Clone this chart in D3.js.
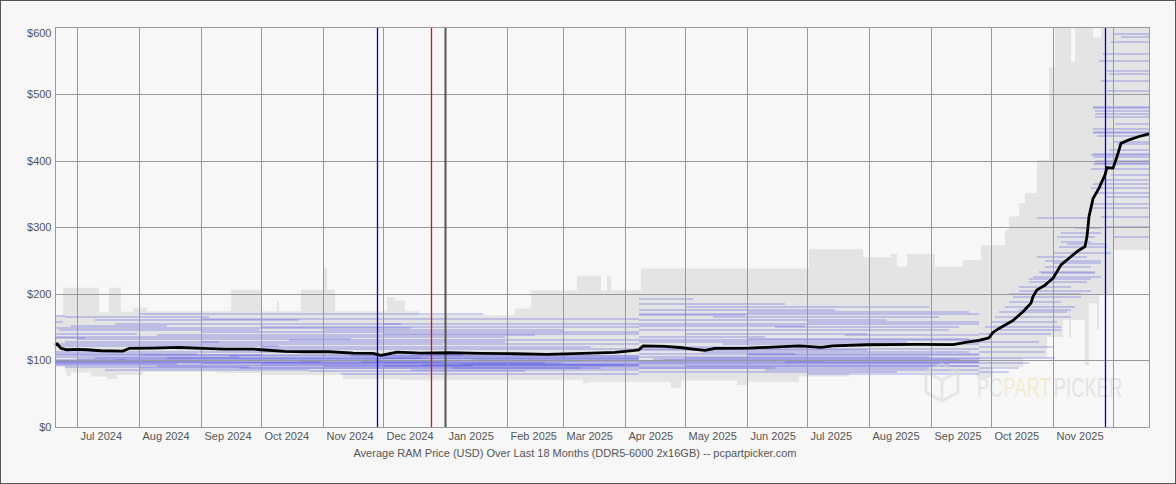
<!DOCTYPE html>
<html>
<head>
<meta charset="utf-8">
<script src="https://cdn.jsdelivr.net/npm/d3@7"></script>
<style>
  html, body { margin: 0; padding: 0; background: #f7f7f7; }
  svg { display: block; }
  text { font-family: "Liberation Sans", Arial, sans-serif; }
</style>
</head>
<body>
<svg id="chart" width="1176" height="484"></svg>
<script>
// ---------------- DATA ----------------
const domainStart = "2024-06-20";
const domainEnd = "2025-12-19";

const yTicks = [0, 100, 200, 300, 400, 500, 600];
const yTickLabels = ["$0", "$100", "$200", "$300", "$400", "$500", "$600"];

const xTickDates = ["2024-07-01","2024-08-01","2024-09-01","2024-10-01","2024-11-01","2024-12-01",
  "2025-01-01","2025-02-01","2025-03-01","2025-04-01","2025-05-01","2025-06-01","2025-07-01",
  "2025-08-01","2025-09-01","2025-10-01","2025-11-01","2025-12-01"];
const xTickLabels = ["Jul 2024","Aug 2024","Sep 2024","Oct 2024","Nov 2024","Dec 2024",
  "Jan 2025","Feb 2025","Mar 2025","Apr 2025","May 2025","Jun 2025","Jul 2025",
  "Aug 2025","Sep 2025","Oct 2025","Nov 2025",""];

// Average price (black line)
const avgDates = ["2024-06-20","2024-06-21","2024-06-23","2024-06-26","2024-07-01","2024-07-06","2024-07-13",
  "2024-07-24","2024-07-27","2024-08-08","2024-08-21","2024-09-02","2024-09-13","2024-09-27","2024-10-01",
  "2024-10-13","2024-10-23","2024-11-04","2024-11-16","2024-11-26","2024-11-30","2024-12-05","2024-12-08",
  "2024-12-20","2025-01-03","2025-01-19","2025-02-05","2025-02-21","2025-03-11","2025-03-27","2025-04-06",
  "2025-04-08","2025-04-10","2025-04-21","2025-04-30","2025-05-05","2025-05-11","2025-05-16","2025-06-02",
  "2025-06-19","2025-06-27","2025-07-08","2025-07-14","2025-07-31","2025-08-25","2025-09-12","2025-09-19",
  "2025-09-25","2025-09-30","2025-10-02","2025-10-05","2025-10-12","2025-10-17","2025-10-21","2025-10-22",
  "2025-10-24","2025-10-28","2025-11-01","2025-11-05","2025-11-09","2025-11-13","2025-11-17","2025-11-18",
  "2025-11-19","2025-11-21","2025-11-24","2025-11-27","2025-11-28","2025-12-01","2025-12-03","2025-12-05",
  "2025-12-09","2025-12-14","2025-12-19"];
const avgPrices = [123,125,118,116,116.5,116,114.5,
  114,118,118.5,119.5,118,117,117,116,
  113.5,113,113,111,110.5,107.5,110.5,112.5,
  111,111.5,110.7,110,109.2,110.5,112,115,
  116,121.7,121,119,117,115,118,118.5,
  120.7,121.9,119.5,121.9,123.5,124,123.7,127.5,
  130,134,142,148,160,173,186,196,
  206,213,223.5,243.5,253.5,263.5,271,286,
  316,343,358.7,378.7,389.7,388.8,406,426,
  431.3,436.3,440.3];

// Min/max price range (grey band), stepped
const bandDates = ["2024-06-20","2024-06-24","2024-06-25","2024-06-26","2024-06-28","2024-06-29","2024-07-08",
  "2024-07-12","2024-07-16","2024-07-17","2024-07-21","2024-07-23","2024-07-29","2024-08-03","2024-08-05",
  "2024-09-09","2024-09-16","2024-10-01","2024-10-09","2024-10-10","2024-10-21","2024-11-01","2024-11-03",
  "2024-11-07","2024-11-11","2024-12-03","2024-12-07","2024-12-09","2024-12-12","2024-12-19","2025-02-05",
  "2025-02-13","2025-03-08","2025-03-11","2025-03-14","2025-03-20","2025-03-23","2025-03-25","2025-04-09",
  "2025-04-24","2025-04-29","2025-05-27","2025-06-01","2025-06-27","2025-07-02","2025-07-22","2025-07-29",
  "2025-08-12","2025-08-15","2025-08-20","2025-09-03","2025-09-17","2025-09-24","2025-09-26","2025-10-02",
  "2025-10-08","2025-10-10","2025-10-15","2025-10-17","2025-10-18","2025-10-24","2025-10-29","2025-10-30",
  "2025-11-02","2025-11-06","2025-11-09","2025-11-10","2025-11-11","2025-11-12","2025-11-17","2025-11-19",
  "2025-11-21","2025-11-23","2025-11-24","2025-11-25","2025-12-01","2025-12-19"];
const bandHigh = [167,209,209,209,209,209,209,
  172,172,209,209,173,179,179,174,
  174,206,174,189,174,206,239,206,
  174,174,195,190,190,174,168,178,
  205,227,227,227,205,227,205,238,
  238,238,238,238,238,267,267,255,
  260,241,260,241,251,251,273,273,
  296,316,336,336,351,401,401,540,
  610,610,610,548,548,610,610,610,
  585,585,585,610,610,610];
const bandLow = [90,90,83,77,83,82,76,
  76,72,72,78,78,78,83,83,
  81,81,78,78,78,78,78,78,
  78,72,72,72,71,71,71,71,
  71,71,66,68,68,68,68,68,
  59,70,63,68,76,76,81,81,
  81,81,81,81,81,74,74,90,
  90,90,90,104,104,104,135,135,
  135,161,134,161,161,161,93,186,
  186,146,198,198,266,266];

// Individual listing price runs (faint blue lines): [start, end, price]
const listings = [
  // mid 2024 -> early 2025
  ["2024-06-20","2024-06-25",167],["2024-06-20","2024-06-24",158],["2024-06-25","2024-09-05",165],
  ["2024-07-10","2024-10-20",160],["2024-06-28","2024-08-15",152],["2024-08-01","2025-01-20",170],
  ["2024-09-01","2025-04-08",162],["2024-07-20","2024-12-10",155],["2024-10-01","2025-04-08",150],
  ["2024-06-22","2024-09-30",146],["2024-11-01","2025-03-01",145],["2024-06-20","2024-07-31",140],
  ["2024-08-10","2025-02-15",138],["2024-12-01","2025-04-08",140],["2024-06-20","2024-07-05",134],
  ["2024-07-01","2024-11-15",132],["2024-06-25","2024-09-10",128],["2024-09-01","2025-01-31",128],
  ["2024-10-15","2025-04-08",131],["2024-06-20","2024-07-15",125],["2024-07-15","2024-12-31",124],
  ["2025-01-01","2025-04-08",125],["2024-06-20","2024-10-10",121],["2024-10-01","2025-03-15",120],
  ["2024-08-20","2025-04-08",117],["2024-06-20","2024-08-30",110],["2024-08-01","2025-01-10",108],
  ["2024-11-15","2025-04-08",107],["2024-06-20","2024-09-20",105],["2024-07-10","2024-12-20",104],
  ["2024-12-01","2025-04-08",103],["2024-06-20","2024-07-25",101],["2024-07-20","2024-11-30",100],
  ["2024-10-20","2025-04-08",99],["2024-06-20","2024-10-31",97],["2024-09-01","2025-02-28",96],
  ["2025-01-10","2025-04-08",95],["2024-06-20","2024-08-20",94],["2024-08-10","2025-01-15",92],
  ["2024-11-01","2025-04-08",91],["2024-06-25","2024-09-25",90],["2024-09-20","2025-03-20",88],
  ["2024-12-15","2025-04-08",86],["2024-07-15","2024-10-25",86],["2024-10-25","2025-02-10",84],
  ["2024-11-10","2025-04-08",80],["2024-12-20","2025-03-31",93],["2025-01-05","2025-04-08",89],
  ["2024-06-20","2024-12-31",98],["2024-07-01","2025-04-08",102],["2024-06-20","2025-04-08",93],
  ["2024-09-15","2025-04-08",106],["2024-06-20","2024-11-15",112],["2024-11-20","2025-04-08",97],
  ["2024-08-01","2025-03-10",89],["2025-01-15","2025-04-08",100],["2024-06-20","2024-10-01",108],
  ["2024-10-01","2025-04-08",94],["2024-06-20","2025-01-31",135],["2024-09-01","2025-04-08",142],
  ["2024-06-20","2024-12-15",148],["2024-12-01","2025-04-08",155],["2024-06-20","2025-02-20",96],
  ["2024-12-01","2025-04-08",91],["2024-06-20","2024-09-01",99],["2024-08-15","2025-04-08",104],
  // spring/summer 2025
  ["2025-04-08","2025-05-05",192],["2025-04-08","2025-06-20",185],["2025-05-01","2025-08-31",180],
  ["2025-04-08","2025-07-15",176],["2025-06-01","2025-09-20",172],["2025-04-08","2025-05-31",168],
  ["2025-05-15","2025-09-05",165],["2025-04-08","2025-08-10",160],["2025-07-01","2025-09-25",157],
  ["2025-04-08","2025-06-30",152],["2025-06-15","2025-09-15",150],["2025-04-08","2025-09-10",145],
  ["2025-05-01","2025-07-31",140],["2025-07-20","2025-09-25",138],["2025-04-08","2025-06-10",135],
  ["2025-06-01","2025-09-20",132],["2025-04-08","2025-08-20",128],["2025-05-20","2025-09-25",125],
  ["2025-04-08","2025-07-05",120],["2025-04-08","2025-09-25",117],["2025-05-10","2025-09-20",113],
  ["2025-04-08","2025-06-25",110],["2025-06-01","2025-09-25",108],["2025-04-08","2025-08-31",105],
  ["2025-04-15","2025-09-25",102],["2025-04-08","2025-07-10",99],["2025-06-20","2025-09-25",97],
  ["2025-04-08","2025-09-10",94],["2025-05-01","2025-09-25",91],["2025-04-08","2025-06-15",88],
  ["2025-06-10","2025-09-25",86],["2025-04-08","2025-08-15",83],["2025-07-01","2025-09-25",80],
  ["2025-04-08","2025-09-25",96],["2025-04-20","2025-09-15",100],["2025-04-08","2025-09-25",92],
  ["2025-04-08","2025-09-25",98],["2025-05-01","2025-09-25",104],["2025-04-08","2025-08-31",89],
  ["2025-06-01","2025-09-25",110],["2025-04-08","2025-07-31",115],["2025-04-08","2025-09-25",130],
  ["2025-04-08","2025-09-25",155],["2025-04-08","2025-09-25",170],
  // autumn 2025 climb
  ["2025-09-25","2025-10-31",140],["2025-09-28","2025-11-05",150],["2025-10-01","2025-11-03",158],
  ["2025-10-03","2025-11-10",165],["2025-10-05","2025-11-08",172],["2025-10-08","2025-11-12",180],
  ["2025-10-10","2025-11-05",188],["2025-10-12","2025-11-15",195],["2025-10-15","2025-11-20",205],
  ["2025-10-15","2025-11-10",210],["2025-10-20","2025-11-18",218],["2025-10-22","2025-11-25",226],
  ["2025-10-25","2025-11-22",233],["2025-10-28","2025-11-20",240],["2025-11-01","2025-11-25",246],
  ["2025-10-24","2025-11-18",255],["2025-11-01","2025-11-30",262],["2025-11-04","2025-11-28",270],
  ["2025-11-05","2025-11-20",278],["2025-11-03","2025-11-22",286],["2025-11-12","2025-11-25",299],
  ["2025-10-24","2025-11-19",314],["2025-09-20","2025-10-25",128],["2025-09-25","2025-11-01",120],
  ["2025-09-25","2025-10-28",112],["2025-09-25","2025-11-02",104],["2025-09-25","2025-10-20",96],
  ["2025-09-25","2025-10-15",88],["2025-09-25","2025-10-10",82],["2025-10-10","2025-11-15",200],
  ["2025-10-20","2025-11-20",222],["2025-10-28","2025-11-25",250],["2025-10-05","2025-11-05",145],
  ["2025-10-15","2025-11-10",175],["2025-11-05","2025-11-25",292],["2025-11-08","2025-11-28",275],
  ["2025-10-26","2025-11-22",232],
  // late Nov / Dec 2025
  ["2025-11-20","2025-12-19",329],["2025-11-27","2025-12-19",346],["2025-11-20","2025-12-19",359],
  ["2025-11-25","2025-12-19",371],["2025-11-30","2025-12-19",378],["2025-11-21","2025-12-19",395],
  ["2025-11-22","2025-12-19",397],["2025-11-21","2025-12-19",405],["2025-11-20","2025-12-19",408],
  ["2025-11-29","2025-12-19",416],["2025-12-03","2025-12-19",425],["2025-12-01","2025-12-19",428],
  ["2025-11-21","2025-12-19",442],["2025-11-21","2025-12-19",443],["2025-11-22","2025-12-19",466],
  ["2025-11-22","2025-12-19",470],["2025-11-21","2025-12-19",479],["2025-11-21","2025-12-19",480],
  ["2025-11-25","2025-12-19",520],["2025-11-28","2025-12-19",535],["2025-11-24","2025-12-19",550],
  ["2025-11-30","2025-12-19",578],["2025-12-01","2025-12-19",590],["2025-11-28","2025-12-19",300],
  ["2025-12-01","2025-12-19",285],["2025-11-25","2025-12-19",315],["2025-11-21","2025-12-19",410],
  ["2025-11-22","2025-12-19",400],["2025-11-20","2025-12-19",387],["2025-11-21","2025-12-19",365],
  ["2025-11-22","2025-12-19",352],["2025-11-20","2025-12-19",335],["2025-11-23","2025-12-19",437],
  ["2025-11-21","2025-12-19",447],["2025-12-02","2025-12-19",455],["2025-11-22","2025-12-19",475],
  ["2025-11-26","2025-12-19",560],["2025-11-28","2025-12-19",505],["2025-11-29","2025-12-19",530],
  ["2025-12-05","2025-12-19",585]
];

// Marked holidays
const eventDates = ["2024-11-28","2024-12-25","2025-01-01","2025-11-27"];
const eventKinds = ["thanksgiving","christmas","newyear","thanksgiving"];

const titleText = "Average RAM Price (USD) Over Last 18 Months (DDR5-6000 2x16GB) -- pcpartpicker.com";

// ---------------- DRAW ----------------
const W = 1176, H = 484;
const plot = { left: 55, right: 1149, top: 27, bottom: 427 };
const parse = s => new Date(s + "T00:00:00Z");

const x = d3.scaleUtc().domain([parse(domainStart), parse(domainEnd)]).range([plot.left, plot.right]);
const y = d3.scaleLinear().domain([0, 600]).range([plot.bottom, 27.5]);

const svg = d3.select("#chart");
svg.append("rect").attr("x", 0).attr("y", 0).attr("width", W).attr("height", H).attr("fill", "#f7f7f7");

svg.append("defs").append("clipPath").attr("id", "plotClip")
  .append("rect").attr("x", plot.left).attr("y", plot.top)
  .attr("width", plot.right - plot.left).attr("height", plot.bottom - plot.top);

const g = svg.append("g").attr("clip-path", "url(#plotClip)");

// grey band
const band = bandDates.map((d, i) => ({ d: parse(d), hi: bandHigh[i], lo: bandLow[i] }));
g.append("path")
  .datum(band)
  .attr("fill", "#e4e4e4")
  .attr("d", d3.area().curve(d3.curveStepAfter)
    .x(d => x(d.d)).y0(d => y(d.lo)).y1(d => y(d.hi)));

// listing lines
g.append("g").selectAll("line").data(listings).join("line")
  .attr("x1", d => x(parse(d[0])))
  .attr("x2", d => x(parse(d[1])))
  .attr("y1", d => Math.round(y(d[2])))
  .attr("y2", d => Math.round(y(d[2])))
  .attr("stroke", "rgb(70,70,230)")
  .attr("stroke-opacity", 0.24)
  .attr("stroke-width", 2);

// watermark (condensed via horizontal scale)
const wm = g.append("g").attr("opacity", 0.55);
wm.append("path")
  .attr("d", "M926,372 L942,364 L958,372 L958,392 L942,401 L926,392 Z M926,372 L942,380 L958,372 M942,380 L942,401")
  .attr("fill", "none").attr("stroke", "#d9d9d9").attr("stroke-width", 3);
const wmG = wm.append("g").attr("transform", "translate(977,397) scale(0.68,1)");
const wmParts = [["PC", 0, "#d4d4d4"], ["PART", 39, "#efe2b0"], ["PICKER", 113, "#d4d4d4"]];
wmParts.forEach(p => {
  wmG.append("text").attr("x", p[1]).attr("y", 0)
    .attr("font-size", 27).attr("fill", p[2]).text(p[0]);
});

// grid lines
const grid = svg.append("g").attr("stroke", "#999").attr("stroke-width", 1);
yTicks.filter(v => v > 0 && v < 600).forEach(v => {
  const yy = Math.round(y(v)) + 0.5;
  grid.append("line").attr("x1", plot.left).attr("x2", plot.right).attr("y1", yy).attr("y2", yy);
});
xTickDates.forEach(d => {
  const xx = Math.round(x(parse(d))) + 0.5;
  grid.append("line").attr("x1", xx).attr("x2", xx).attr("y1", plot.top).attr("y2", plot.bottom);
});

// event lines
const evColor = { thanksgiving: "rgb(0,0,205)", christmas: "rgb(255,0,0)", newyear: "rgb(85,85,85)" };
const evWidth = { thanksgiving: 1.3, christmas: 1.3, newyear: 2 };
eventDates.forEach((d, i) => {
  const xx = Math.round(x(parse(d))) + 0.5;
  svg.append("line").attr("x1", xx).attr("x2", xx).attr("y1", plot.top).attr("y2", plot.bottom)
    .style("stroke", evColor[eventKinds[i]]).style("stroke-width", evWidth[eventKinds[i]]);
});

// average line
const avg = avgDates.map((d, i) => ({ d: parse(d), v: avgPrices[i] }));
svg.append("path").datum(avg)
  .attr("fill", "none").attr("stroke", "#000").attr("stroke-width", 2.8)
  .attr("stroke-linejoin", "round")
  .attr("d", d3.line().x(d => x(d.d)).y(d => y(d.v)));

// plot border
svg.append("rect").attr("x", plot.left + 0.5).attr("y", plot.top + 0.5)
  .attr("width", plot.right - plot.left).attr("height", plot.bottom - plot.top)
  .attr("fill", "none").attr("stroke", "#999");

// y labels
svg.append("g").selectAll("text").data(yTicks).join("text")
  .attr("x", 51.5)
  .attr("y", d => Math.max(y(d), 33))
  .attr("dy", "0.35em")
  .attr("text-anchor", "end")
  .attr("font-size", 11).attr("fill", "#555")
  .text((d, i) => yTickLabels[i]);

// x labels
svg.append("g").selectAll("text").data(xTickDates).join("text")
  .attr("x", d => Math.round(x(parse(d))) + 3.5)
  .attr("y", 440)
  .attr("font-size", 11).attr("fill", "#555")
  .text((d, i) => xTickLabels[i]);

// title
svg.append("text").attr("x", 575).attr("y", 457).attr("text-anchor", "middle")
  .attr("font-size", 11).attr("fill", "#555").text(titleText);

// outer border
svg.append("rect").attr("x", 0.5).attr("y", 0.5).attr("width", W - 1).attr("height", H - 1)
  .attr("fill", "none").attr("stroke", "#555").attr("stroke-width", 1);
</script>
</body>
</html>
